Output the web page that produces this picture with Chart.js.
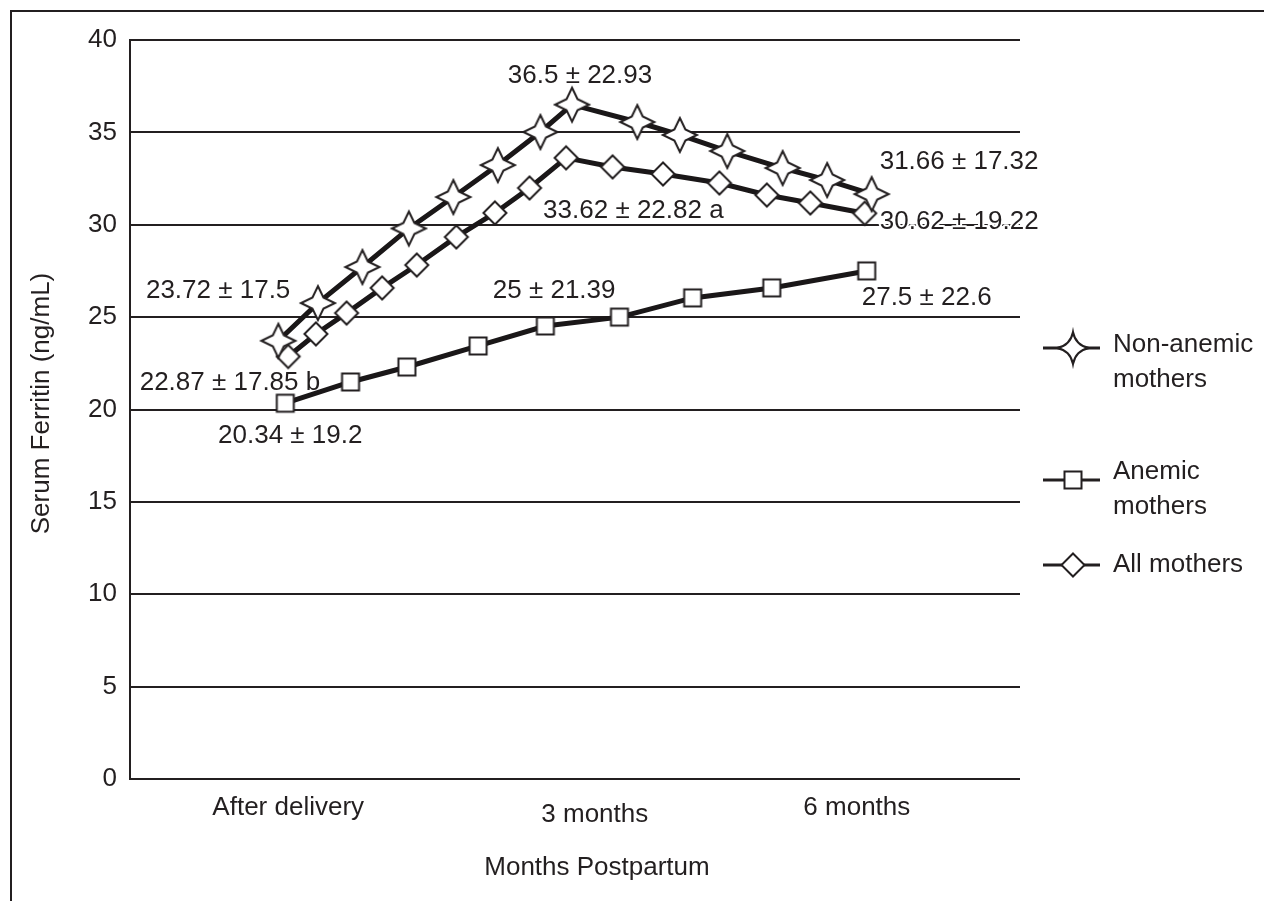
<!DOCTYPE html>
<html>
<head>
<meta charset="utf-8">
<script src="https://cdn.jsdelivr.net/npm/chart.js@4.4.1/dist/chart.umd.min.js"></script>
<style>
  html, body { margin: 0; padding: 0; background: #fff; width: 1264px; height: 901px; overflow: hidden; }
  #frame { position: absolute; left: 10px; top: 10px; width: 1320px; height: 960px; border: 2px solid #231f20; box-sizing: border-box; }
  #wrap { position: absolute; left: 0; top: 0; width: 1264px; height: 901px; }
</style>
</head>
<body>
<div id="frame"></div>
<div id="wrap"><canvas id="chart" width="1264" height="901"></canvas></div>
<script>
// Serum ferritin (ng/mL) by months postpartum
const nonAnemicMonths   = [0, 0.40, 0.85, 1.32, 1.77, 2.22, 2.65, 2.97, 3.63, 4.06, 4.54, 5.10, 5.55, 6.00];
const nonAnemicFerritin = [23.72, 25.76, 27.71, 29.8, 31.5, 33.23, 35.02, 36.5, 35.56, 34.86, 33.99, 33.07, 32.42, 31.66];

const anemicMonths   = [0.07, 0.73, 1.30, 2.02, 2.70, 3.45, 4.19, 4.99, 5.95];
const anemicFerritin = [20.34, 21.49, 22.30, 23.44, 24.52, 25, 26.04, 26.58, 27.5];

const allMonths   = [0.10, 0.38, 0.69, 1.05, 1.40, 1.80, 2.19, 2.54, 2.91, 3.38, 3.89, 4.46, 4.94, 5.38, 5.93];
const allFerritin = [22.87, 24.09, 25.22, 26.58, 27.82, 29.34, 30.64, 31.99, 33.62, 33.13, 32.75, 32.26, 31.61, 31.18, 30.62];

const seriesNames = [['Non-anemic', 'mothers'], ['Anemic', 'mothers'], ['All mothers']];

const timeLabels     = ['After delivery', '3 months', '6 months'];
const timeTickMonths = [0.10, 3.20, 5.85];

const yMin = 0, yMax = 40, yStep = 5;

// mean ± SD callouts: dataset, point index, SD, suffix letter
const callouts = [
  { ds: 0, i: 0,  sd: '17.5',  tag: '',  align: 'right',  dx: 12,  dy: -50 },
  { ds: 0, i: 7,  sd: '22.93', tag: '',  align: 'center', dx: 8,   dy: -29 },
  { ds: 0, i: 13, sd: '17.32', tag: '',  align: 'left',   dx: 8,   dy: -32 },
  { ds: 2, i: 8,  sd: '22.82', tag: 'a', align: 'left',   dx: -23, dy: 53 },
  { ds: 2, i: 14, sd: '19.22', tag: '',  align: 'left',   dx: 15,  dy: 9, halo: true },
  { ds: 2, i: 0,  sd: '17.85', tag: 'b', align: 'right',  dx: 32,  dy: 26 },
  { ds: 1, i: 0,  sd: '19.2',  tag: '',  align: 'center', dx: 5,   dy: 33 },
  { ds: 1, i: 5,  sd: '21.39', tag: '',  align: 'right',  dx: -4,  dy: -26 },
  { ds: 1, i: 8,  sd: '22.6',  tag: '',  align: 'left',   dx: -5,  dy: 27 }
];

const INK = '#231f20';
const FAMILY = '"Liberation Sans", Arial, Helvetica, sans-serif';
const FS = 26;

// marker sprites
function sprite(draw) {
  const c = document.createElement('canvas');
  c.width = 44; c.height = 44;
  const g = c.getContext('2d');
  g.translate(22, 22);
  g.beginPath();
  draw(g);
  g.closePath();
  g.fillStyle = '#fff';
  g.fill();
  g.lineWidth = 2;
  g.lineJoin = 'miter';
  g.strokeStyle = INK;
  g.stroke();
  return c;
}
// four-pointed star; inner corners pulled in along the diagonals
function fourPointStar(R, k, bend) {
  return g => {
    const tips = [[0, -R], [R, 0], [0, R], [-R, 0]];
    const inner = [[k, -k], [k, k], [-k, k], [-k, -k]];
    g.moveTo(tips[0][0], tips[0][1]);
    for (let n = 0; n < 4; n++) {
      const a = tips[n], b = tips[(n + 1) % 4], m = inner[n];
      if (bend) {
        g.quadraticCurveTo(m[0], m[1], b[0], b[1]);
      } else {
        g.lineTo(m[0], m[1]);
        g.lineTo(b[0], b[1]);
      }
    }
  };
}
const starMarker = sprite(fourPointStar(17, 5.5, false));
const legendStar = sprite(fourPointStar(16, 2.6, true));
const squareMarker = sprite(g => { g.rect(-8.5, -8.5, 17, 17); });
const diamondMarker = sprite(g => {
  const h = 11.5;
  g.moveTo(0, -h); g.lineTo(h, 0); g.lineTo(0, h); g.lineTo(-h, 0);
});
const legendMarkers = [legendStar, squareMarker, diamondMarker];

function pts(xs, ys) { return xs.map((x, k) => ({ x, y: ys[k] })); }

function lineSet(label, xs, ys, marker) {
  return {
    label, data: pts(xs, ys),
    borderColor: '#1a1718', borderWidth: 5, tension: 0,
    pointStyle: marker, pointRadius: 12, pointHoverRadius: 12,
    backgroundColor: '#fff', fill: false
  };
}

const annotate = {
  id: 'annotate',
  afterDatasetsDraw(chart) {
    const ctx = chart.ctx;
    const xs = chart.scales.x, ys = chart.scales.y;
    ctx.save();
    ctx.fillStyle = INK;
    ctx.font = FS + 'px ' + FAMILY;
    ctx.textBaseline = 'middle';

    // mean ± SD callouts, anchored on their points
    callouts.forEach(c => {
      const ds = chart.data.datasets[c.ds];
      const p = ds.data[c.i];
      const px = xs.getPixelForValue(p.x), py = ys.getPixelForValue(p.y);
      const txt = String(p.y) + ' \u00B1 ' + c.sd + (c.tag ? ' ' + c.tag : '');
      ctx.textAlign = c.align;
      if (c.halo) {
        ctx.strokeStyle = '#fff';
        ctx.lineWidth = 4;
        ctx.lineJoin = 'round';
        ctx.strokeText(txt, px + c.dx, py + c.dy);
      }
      ctx.fillText(txt, px + c.dx, py + c.dy);
    });

    // time point labels under the plot
    ctx.textAlign = 'center';
    const lift = [0, 7, 0];
    timeLabels.forEach((t, k) => {
      ctx.fillText(t, xs.getPixelForValue(timeTickMonths[k]), 808 + lift[k]);
    });
    ctx.fillText('Months Postpartum', (chart.chartArea.left + chart.chartArea.right) / 2 + 22, 868);

    // y axis title
    ctx.save();
    ctx.translate(42, (chart.chartArea.top + chart.chartArea.bottom) / 2 - 6);
    ctx.rotate(-Math.PI / 2);
    ctx.fillText('Serum Ferritin (ng/mL)', 0, 0);
    ctx.restore();

    // legend
    const rows = [[345, 380], [472, 507], [565]];
    const markY = [348, 480, 565];
    ctx.textAlign = 'left';
    chart.data.datasets.forEach((ds, k) => {
      ctx.strokeStyle = INK;
      ctx.lineWidth = 3;
      ctx.beginPath();
      ctx.moveTo(1043, markY[k]);
      ctx.lineTo(1100, markY[k]);
      ctx.stroke();
      const m = legendMarkers[k];
      ctx.drawImage(m, 1073 - m.width / 2, markY[k] - m.height / 2);
      seriesNames[k].forEach((line, j) => ctx.fillText(line, 1113, rows[k][j]));
    });
    ctx.restore();
  }
};

new Chart(document.getElementById('chart'), {
  type: 'line',
  data: {
    datasets: [
      lineSet('Non-anemic mothers', nonAnemicMonths, nonAnemicFerritin, starMarker),
      lineSet('Anemic mothers', anemicMonths, anemicFerritin, squareMarker),
      lineSet('All mothers', allMonths, allFerritin, diamondMarker)
    ]
  },
  options: {
    responsive: false,
    animation: false,
    devicePixelRatio: 1,
    layout: { padding: { top: 40, right: 244, bottom: 0, left: 0 } },
    plugins: { legend: { display: false }, tooltip: { enabled: false } },
    scales: {
      x: {
        type: 'linear', min: -1.5, max: 7.5,
        grid: { display: false }, border: { display: false },
        ticks: { display: false },
        afterFit(s) { s.height = 122; }
      },
      y: {
        min: yMin, max: yMax,
        ticks: { stepSize: yStep, color: INK, padding: 13, font: { size: FS, family: FAMILY } },
        grid: { color: INK, lineWidth: 2, drawTicks: false, tickLength: 0 },
        border: { display: true, color: INK, width: 2 },
        afterFit(s) { s.width = 130; }
      }
    }
  },
  plugins: [annotate]
});
</script>
</body>
</html>
